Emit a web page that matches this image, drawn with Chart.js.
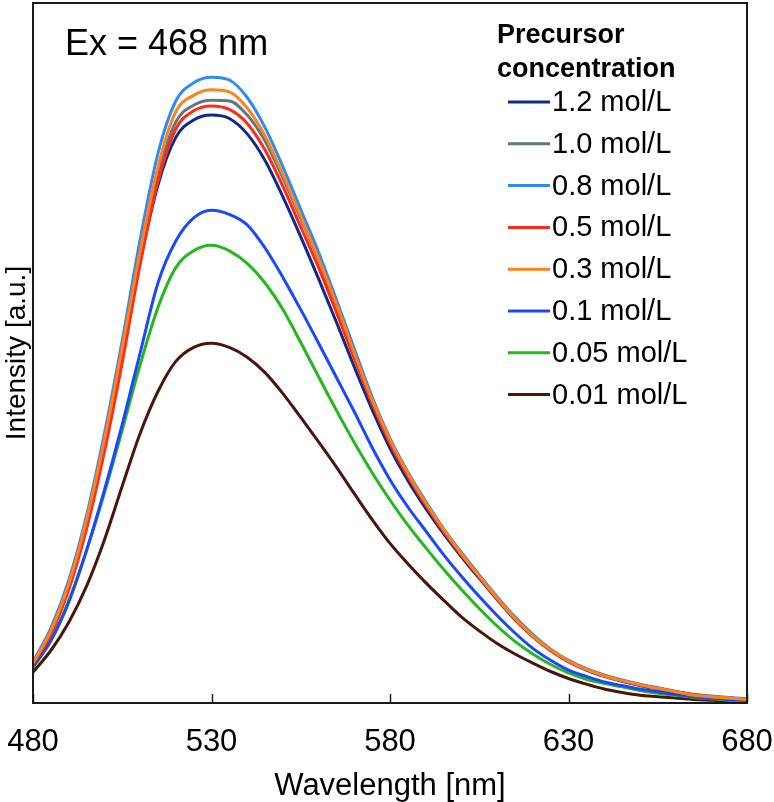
<!DOCTYPE html>
<html lang="en">
<head>
  <meta charset="UTF-8">
  <title>Emission spectra</title>
  <script src="https://cdn.jsdelivr.net/npm/chart.js"></script>
  <style>
    body {
      margin: 0;
      background: white;
    }
    canvas {
      display: block;
    }
  </style>
</head>
<body>
  <canvas id="chart" width="774" height="802"></canvas>

  <script>
    // wavelength grid (nm)
    const wavelengths = [480, 485, 490, 495, 500, 505, 510, 515, 520, 525, 530, 535, 540, 545, 550, 555, 560, 565, 570, 575,
      580, 585, 590, 595, 600, 605, 610, 615, 620, 625, 630, 635, 640, 645, 650, 655, 660, 665, 670, 675, 680];
    const xTicks = [480, 530, 580, 630, 680];

    const labels = ['1.2 mol/L', '1.0 mol/L', '0.8 mol/L', '0.5 mol/L', '0.3 mol/L', '0.1 mol/L', '0.05 mol/L', '0.01 mol/L'];
    const colors = ['#0f2a8c', '#627680', '#2e8cf0', '#ff2b14', '#ff821c', '#1a48ff', '#22b81e', '#4a150b'];

    const c12 = [5.5, 9.9, 16.4, 25.2, 36.3, 49.2, 63, 74, 80.8, 83.3, 84, 83.5, 81.3, 77.5, 72.3, 66.6, 60.6, 54.4, 48, 41.9,
      36.4, 31.8, 27.8, 24.2, 20.9, 17.8, 14.8, 11.9, 9.5, 7.5, 5.9, 4.7, 3.8, 3.1, 2.5, 2.0, 1.5, 1.1, 0.9, 0.7, 0.5];
    const c10 = [5.6, 10.1, 16.7, 25.6, 36.9, 49.8, 63.8, 75.5, 83, 85.4, 86.1, 86, 84, 80.3, 75, 69.2, 63.3, 56.8, 49.9, 43.2,
      37.5, 32.7, 28.5, 24.7, 21.3, 18.1, 15.0, 12.1, 9.6, 7.6, 6.0, 4.8, 3.9, 3.2, 2.6, 2.1, 1.6, 1.2, 0.9, 0.7, 0.5];
    const c08 = [5.9, 10.7, 17.5, 26.8, 38.5, 51.8, 66.2, 78.5, 86, 88.6, 89.4, 89, 86.5, 82.2, 76.6, 70.5, 64.4, 57.6, 50.6, 43.7,
      37.8, 33.0, 28.8, 24.9, 21.5, 18.3, 15.2, 12.3, 9.8, 7.7, 6.1, 4.9, 4.0, 3.3, 2.7, 2.2, 1.7, 1.2, 1.0, 0.8, 0.6];
    const c05 = [5.5, 9.8, 16.2, 24.9, 35.9, 48.7, 62.7, 74.5, 82, 84.6, 85.3, 84.8, 82.8, 79, 73.8, 68, 62.2, 55.8, 49.2, 42.8,
      37.1, 32.4, 28.3, 24.5, 21.1, 18.0, 14.9, 12.0, 9.5, 7.5, 5.9, 4.8, 3.9, 3.2, 2.6, 2.1, 1.6, 1.2, 0.9, 0.7, 0.5];
    const c03 = [5.7, 10.3, 17.0, 26.2, 37.6, 50.8, 64.5, 76.6, 84.5, 86.8, 87.6, 87.3, 85, 81, 75.5, 69.5, 63.5, 57, 50, 43.3,
      37.6, 32.8, 28.6, 24.8, 21.3, 18.1, 15.0, 12.1, 9.6, 7.6, 6.0, 4.8, 3.9, 3.2, 2.6, 2.1, 1.6, 1.1, 0.9, 0.7, 0.5];
    const c01 = [5.2, 8.9, 14.4, 21.8, 30.4, 39.8, 50, 60, 66, 69.3, 70.4, 69.8, 68.3, 65, 60.8, 56.2, 51.4, 46.5, 41.6, 36.5,
      31.9, 28.0, 24.6, 21.2, 18.1, 15.2, 12.5, 10.0, 7.8, 6.1, 4.7, 3.8, 3.0, 2.5, 2.0, 1.6, 1.2, 0.9, 0.7, 0.5, 0.4];
    const c005 = [5.0, 9.0, 14.6, 21.8, 30.0, 39, 48.3, 56.5, 62.2, 64.6, 65.4, 64.6, 62.8, 60, 56.2, 51.5, 46.6, 41.8, 37.2, 32.9,
      29.0, 25.4, 22.2, 19.1, 16.2, 13.5, 11.0, 8.8, 7.0, 5.5, 4.3, 3.4, 2.8, 2.3, 1.8, 1.4, 1.1, 0.8, 0.6, 0.4, 0.3];
    const c001 = [4.4, 7.5, 11.5, 16.7, 23.3, 31, 38.5, 44.5, 48.8, 50.8, 51.4, 50.8, 49.4, 47.2, 44.2, 40.8, 37.3, 33.7, 29.9, 26.2,
      22.8, 19.9, 17.2, 14.7, 12.3, 10.3, 8.5, 7.0, 5.7, 4.5, 3.5, 2.7, 2.0, 1.5, 1.1, 0.9, 0.7, 0.5, 0.4, 0.3, 0.2];

    const series = [c12, c10, c08, c05, c03, c01, c005, c001];
    // lower value = drawn on top
    const drawOrder = [4, 2, 3, 1, 0, 5, 6, 7];

    const FONT = 'Liberation Sans, Arial, sans-serif';

    const boxAndLegend = {
      id: 'boxAndLegend',
      afterDatasetsDraw(chart) {
        const ctx = chart.ctx;
        const area = chart.chartArea;
        const xs = chart.scales.x;
        ctx.save();

        // frame
        ctx.strokeStyle = '#1a1a1a';
        ctx.lineWidth = 2;
        ctx.strokeRect(area.left, area.top, area.right - area.left, area.bottom - area.top);

        // inward tick marks
        ctx.lineWidth = 1.5;
        xTicks.forEach(v => {
          const px = Math.round(xs.getPixelForValue(v)) + 0.5;
          ctx.beginPath();
          ctx.moveTo(px, area.bottom);
          ctx.lineTo(px, area.bottom - 9);
          ctx.stroke();
        });

        ctx.fillStyle = '#000';
        ctx.textBaseline = 'alphabetic';
        ctx.textAlign = 'left';
        ctx.font = '36px ' + FONT;
        ctx.fillText('Ex = 468 nm', 65, 55);

        ctx.font = 'bold 27px ' + FONT;
        ctx.fillText('Precursor', 497, 43);
        ctx.fillText('concentration', 497, 77);

        ctx.font = '29px ' + FONT;
        ctx.lineWidth = 3;
        labels.forEach((lab, i) => {
          const y = 102 + i * 41.8;
          ctx.strokeStyle = colors[i];
          ctx.beginPath();
          ctx.moveTo(508, y);
          ctx.lineTo(550, y);
          ctx.stroke();
          ctx.textBaseline = 'middle';
          ctx.fillText(lab, 552, y + 1);
        });
        ctx.restore();
      }
    };

    new Chart(document.getElementById('chart'), {
      type: 'line',
      data: {
        datasets: series.map((vals, i) => ({
          label: labels[i],
          data: wavelengths.map((w, j) => ({ x: w, y: vals[j] })),
          borderColor: colors[i],
          borderWidth: 3,
          pointRadius: 0,
          cubicInterpolationMode: 'monotone',
          fill: false,
          order: drawOrder[i]
        }))
      },
      options: {
        responsive: false,
        animation: false,
        devicePixelRatio: 1,
        layout: { padding: { top: 3, right: 27, left: 0, bottom: 0 } },
        plugins: {
          legend: { display: false },
          tooltip: { enabled: false }
        },
        scales: {
          x: {
            type: 'linear',
            min: 480,
            max: 680,
            afterBuildTicks: scale => { scale.ticks = xTicks.map(v => ({ value: v })); },
            afterFit: scale => {
              scale.height = 99;
              scale.paddingLeft = 0;
              scale.paddingRight = 0;
            },
            grid: { display: false },
            border: { display: false },
            ticks: {
              color: '#000',
              font: { family: FONT, size: 31 },
              padding: 13,
              maxRotation: 0
            },
            title: {
              display: true,
              text: 'Wavelength [nm]',
              color: '#000',
              font: { family: FONT, size: 31 },
              padding: { top: 0, bottom: -3 }
            }
          },
          y: {
            min: 0,
            max: 100,
            afterFit: scale => { scale.width = 33; },
            grid: { display: false },
            border: { display: false },
            ticks: { display: false },
            title: {
              display: true,
              text: 'Intensity [a.u.]',
              color: '#000',
              font: { family: FONT, size: 28 },
              padding: { top: 0, bottom: 0 }
            }
          }
        }
      },
      plugins: [boxAndLegend]
    });
  </script>
</body>
</html>
